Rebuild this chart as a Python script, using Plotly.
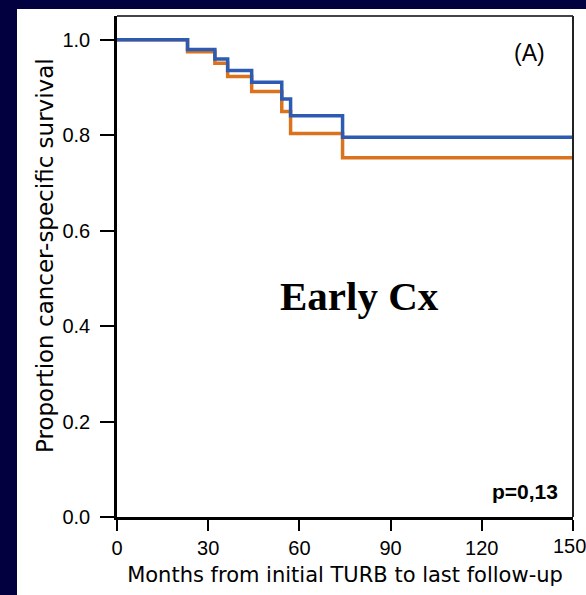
import plotly.graph_objects as go

# Kaplan-Meier step data (months, survival proportion)
months_blue = [0, 23.2, 32.2, 36.4, 44.3, 54.2, 57.1, 74.2, 150]
surv_blue = [1.0, 0.980, 0.960, 0.936, 0.911, 0.876, 0.841, 0.796, 0.796]

months_orange = [0, 23.2, 32.2, 36.4, 44.3, 54.2, 57.1, 74.2, 150]
surv_orange = [1.0, 0.975, 0.951, 0.923, 0.892, 0.850, 0.804, 0.753, 0.753]

x_ticks = [0, 30, 60, 90, 120, 150]
y_ticks = [0.0, 0.2, 0.4, 0.6, 0.8, 1.0]
y_tick_labels = ["0.0", "0.2", "0.4", "0.6", "0.8", "1.0"]

NAVY = "#03003F"
BLUE = "#2E5BB2"
ORANGE = "#DB721E"

fig = go.Figure()
fig.add_trace(go.Scatter(x=months_orange, y=surv_orange, mode="lines",
                         line=dict(shape="hv", color=ORANGE, width=3.5),
                         showlegend=False, hoverinfo="skip"))
fig.add_trace(go.Scatter(x=months_blue, y=surv_blue, mode="lines",
                         line=dict(shape="hv", color=BLUE, width=3.5),
                         showlegend=False, hoverinfo="skip"))

L, R, T, B = 117, 13, 16, 78
W, H = 586, 595
pw, ph = W - L - R, H - T - B

def px(xp):
    return (xp - L) / pw

def py(yp):
    return (H - B - yp) / ph

shapes = [
    # white panel
    dict(type="rect", xref="paper", yref="paper", x0=px(17), x1=px(590),
         y0=py(600), y1=py(9), fillcolor="white", line=dict(width=0), layer="below"),
    # top frame
    dict(type="line", xref="paper", yref="paper", x0=0, x1=1, y0=1, y1=1,
         line=dict(color="#444444", width=2)),
    # right frame
    dict(type="line", xref="paper", yref="paper", x0=1, x1=1, y0=0, y1=1,
         line=dict(color="#222222", width=2)),
]

# last x tick label is drawn as an annotation so it stays inside the page edge
x_tick_text = [str(v) for v in x_ticks[:-1]] + [""]

fig.update_layout(
    width=W, height=H,
    margin=dict(l=L, r=R, t=T, b=B, pad=0, autoexpand=False),
    paper_bgcolor=NAVY,
    plot_bgcolor="white",
    shapes=shapes,
    font=dict(family="Liberation Sans, Arial", color="black"),
    xaxis=dict(range=[0, 150], tickvals=x_ticks, ticktext=x_tick_text,
               showgrid=False, zeroline=False, showline=True, linecolor="black", linewidth=2.5,
               ticks="outside", ticklen=11, tickwidth=2, tickcolor="black",
               automargin=False,
               tickfont=dict(size=20, family="Liberation Sans, Arial", color="black"),
               title=dict(text="Months from initial TURB to last follow-up",
                          font=dict(size=21, family="DejaVu Sans", color="black"), standoff=10)),
    yaxis=dict(range=[0, 1.05], tickvals=y_ticks, ticktext=y_tick_labels,
               showgrid=False, zeroline=False, showline=True, linecolor="black", linewidth=2.5,
               ticks="outside", ticklen=14, tickwidth=2, tickcolor="black",
               ticklabelstandoff=6, automargin=False,
               tickfont=dict(size=20, family="Liberation Sans, Arial", color="black")),
    annotations=[
        dict(text=str(x_ticks[-1]), xref="x", yref="paper", x=x_ticks[-1], y=py(546),
             xshift=-4, showarrow=False, xanchor="center", yanchor="middle",
             font=dict(size=20, family="Liberation Sans, Arial", color="black")),
        dict(text="Proportion cancer-specific survival", xref="paper", yref="paper",
             x=px(45), y=py(256), textangle=-90, showarrow=False,
             xanchor="center", yanchor="middle",
             font=dict(size=23, family="DejaVu Sans", color="black")),
        dict(text="(A)", xref="paper", yref="paper", x=px(529), y=py(53),
             showarrow=False, xanchor="center", yanchor="middle",
             font=dict(size=23, family="Liberation Sans, Arial", color="black")),
        dict(text="<b>Early Cx</b>", xref="paper", yref="paper", x=px(359), y=py(296),
             showarrow=False, xanchor="center", yanchor="middle",
             font=dict(size=41, family="Liberation Serif, Times New Roman", color="black")),
        dict(text="<b>p=0,13</b>", xref="paper", yref="paper", x=px(525), y=py(491),
             showarrow=False, xanchor="center", yanchor="middle",
             font=dict(size=21, family="Liberation Sans, Arial", color="black")),
    ],
)

fig.write_html("out.html")
